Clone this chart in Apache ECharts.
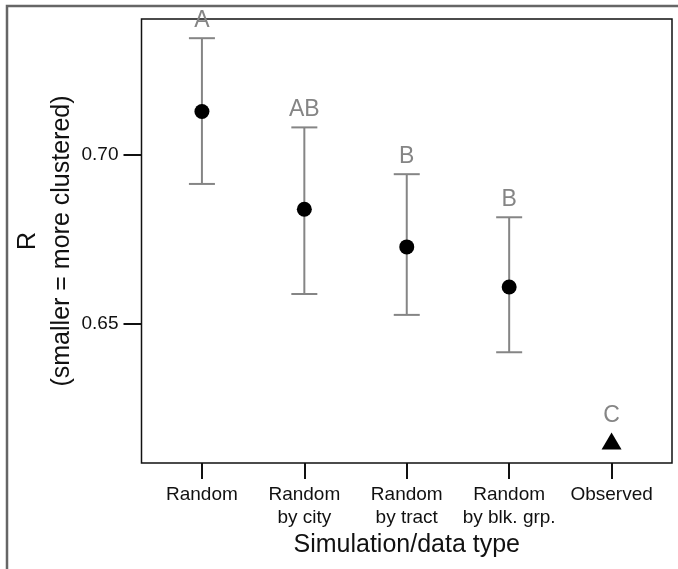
<!DOCTYPE html>
<html>
<head>
<meta charset="utf-8">
<script src="https://cdn.jsdelivr.net/npm/echarts@6/dist/echarts.min.js"></script>
<style>
  html, body { margin: 0; padding: 0; background: #fff; }
  #chart { width: 678px; height: 569px; }
</style>
</head>
<body>
<div id="chart"></div>
<script>
// Simulated mean R with 95% intervals, plus the observed value
const categories = ['Random', 'Random\nby city', 'Random\nby tract', 'Random\nby blk. grp.', 'Observed'];
const means  = [0.7129, 0.6839, 0.6727, 0.6608];
const lowers = [0.6914, 0.6587, 0.6525, 0.6414];
const uppers = [0.7347, 0.7082, 0.6943, 0.6815];
const observed = 0.6150;
const letters = ['A', 'AB', 'B', 'B', 'C'];
const yTicks = [0.65, 0.70];
const xTicks = [1, 2, 3, 4, 5];

const FONT = 'Liberation Sans, Arial, Helvetica, sans-serif';
const GREY = '#858585';

const barData = means.map((m, i) => [i + 1, lowers[i], uppers[i]]);
const pointData = means.map((m, i) => [i + 1, m]);
const letterData = letters.map((t, i) => i < means.length ? [i + 1, uppers[i], 0] : [i + 1, observed, 1]);

const chart = echarts.init(document.getElementById('chart'), null, { renderer: 'canvas' });

chart.setOption({
  animation: false,
  backgroundColor: '#fff',
  graphic: [{
    type: 'rect',
    shape: { x: 7, y: 6, width: 800, height: 700 },
    style: { fill: 'none', stroke: '#666', lineWidth: 2.5 },
    silent: true
  }],
  grid: {
    left: 141.5, top: 19, right: 6, bottom: 106,
    show: true, borderColor: '#111', borderWidth: 1.5,
    containLabel: false, outerBoundsMode: 'none'
  },
  xAxis: {
    type: 'value', min: 0.41, max: 5.59,
    splitLine: { show: false },
    axisLine: { show: false },
    axisTick: { show: true, customValues: xTicks, length: 16, lineStyle: { color: '#111', width: 2 } },
    axisLabel: {
      customValues: xTicks,
      formatter: v => categories[Math.round(v) - 1] || '',
      margin: 20, fontFamily: FONT, fontSize: 19, color: '#111', lineHeight: 23,
      verticalAlign: 'top'
    },
    name: 'Simulation/data type', nameLocation: 'middle', nameGap: 70, nameMoveOverlap: false,
    nameTextStyle: { fontFamily: FONT, fontSize: 25, color: '#111' }
  },
  yAxis: {
    type: 'value', min: 0.6085, max: 0.7404,
    splitLine: { show: false },
    axisLine: { show: false },
    axisTick: { show: true, customValues: yTicks, length: 18, lineStyle: { color: '#111', width: 2 } },
    axisLabel: {
      customValues: yTicks,
      formatter: v => v.toFixed(2),
      margin: 23, fontFamily: FONT, fontSize: 19, color: '#111'
    },
    name: 'R\n(smaller = more clustered)', nameLocation: 'middle', nameGap: 62, nameRotate: 90,
    nameMoveOverlap: false,
    nameTextStyle: { fontFamily: FONT, fontSize: 25, color: '#111', lineHeight: 34 }
  },
  series: [
    {
      // interval whiskers with end caps
      type: 'custom',
      data: barData,
      encode: { x: 0, y: [1, 2] },
      renderItem: (params, api) => {
        const x = api.value(0);
        const lo = api.coord([x, api.value(1)]);
        const hi = api.coord([x, api.value(2)]);
        const hw = 13;
        const st = { stroke: GREY, lineWidth: 2 };
        return {
          type: 'group',
          children: [
            { type: 'line', shape: { x1: lo[0], y1: lo[1], x2: hi[0], y2: hi[1] }, style: st },
            { type: 'line', shape: { x1: lo[0] - hw, y1: lo[1], x2: lo[0] + hw, y2: lo[1] }, style: st },
            { type: 'line', shape: { x1: hi[0] - hw, y1: hi[1], x2: hi[0] + hw, y2: hi[1] }, style: st }
          ]
        };
      },
      z: 2
    },
    {
      type: 'scatter',
      data: pointData,
      symbol: 'circle', symbolSize: 15,
      itemStyle: { color: '#000', opacity: 1 },
      z: 3
    },
    {
      type: 'scatter',
      data: [[5, observed]],
      symbol: 'triangle', symbolSize: [20, 17],
      itemStyle: { color: '#000', opacity: 1 },
      z: 3
    },
    {
      // group letters above each interval / observed point
      type: 'custom',
      data: letterData,
      encode: { x: 0, y: 1 },
      renderItem: (params, api) => {
        const p = api.coord([api.value(0), api.value(1)]);
        const off = api.value(2) ? 14 : 6;
        return {
          type: 'text',
          x: p[0], y: p[1] - off,
          style: {
            text: letters[params.dataIndex],
            fill: GREY, font: '23px ' + FONT,
            textAlign: 'center', textVerticalAlign: 'bottom'
          }
        };
      },
      z: 4
    }
  ]
});
</script>
</body>
</html>
